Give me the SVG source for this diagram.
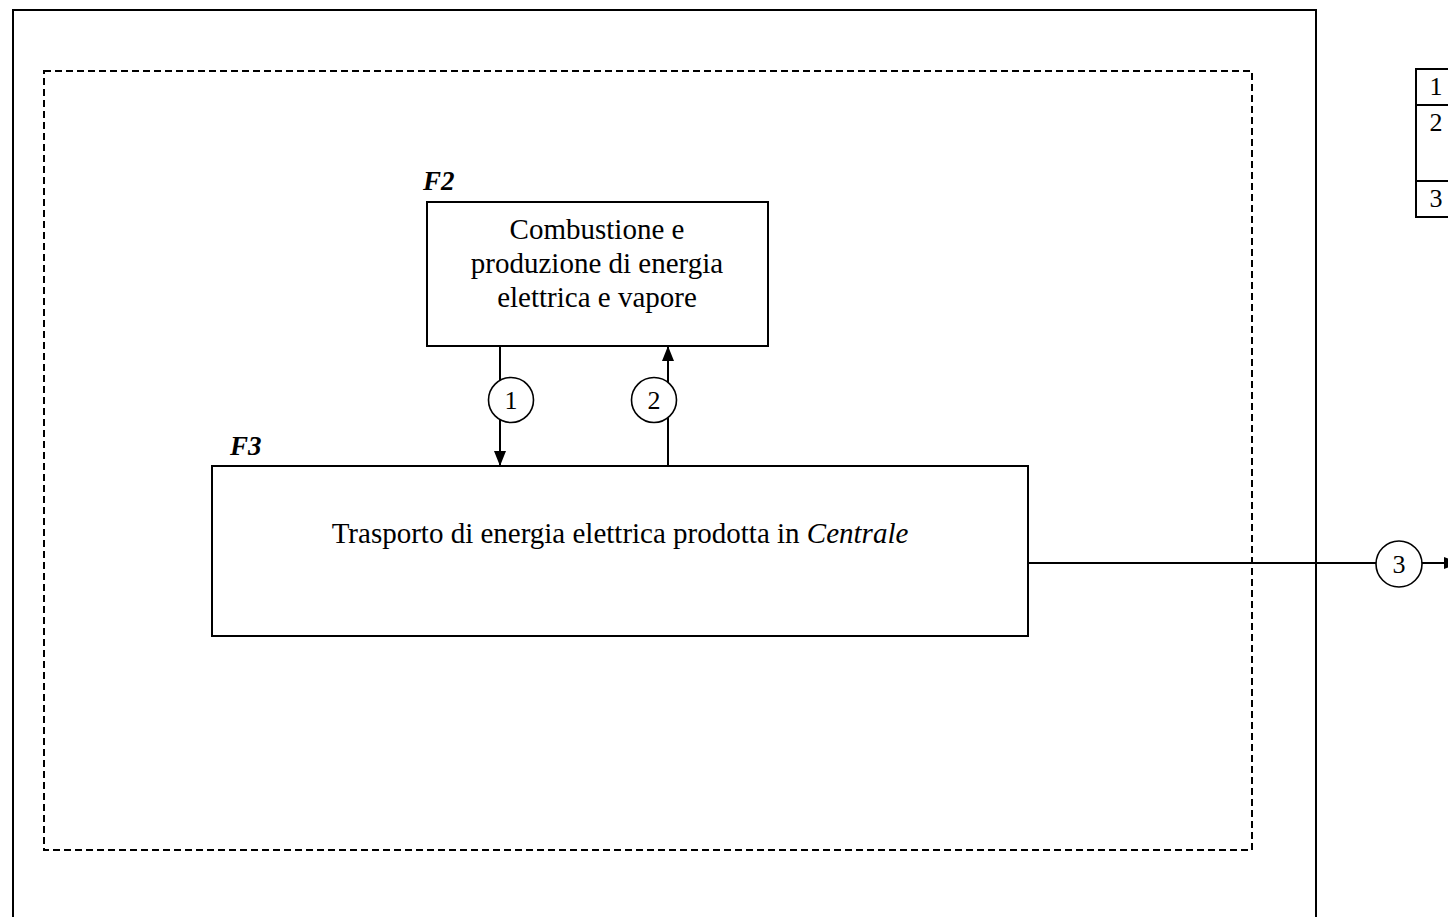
<svg xmlns="http://www.w3.org/2000/svg" width="1448" height="917" viewBox="0 0 1448 917">
  <style>
    .box { fill: #fff; stroke: #000; stroke-width: 2; }
    .frame { fill: none; stroke: #000; stroke-width: 2; }
    .dash { fill: none; stroke: #000; stroke-width: 2; stroke-dasharray: 7 4; }
    .wire { fill: none; stroke: #000; stroke-width: 2; }
    .tag { fill: #fff; stroke: #000; stroke-width: 1.6; }
    .txt { font-family: "Liberation Serif", "Times New Roman", serif; font-size: 29px; fill: #000; }
    .num { font-family: "Liberation Serif", "Times New Roman", serif; font-size: 26px; fill: #000; text-anchor: middle; }
    .lbl { font-family: "Liberation Serif", "Times New Roman", serif; font-size: 27px; font-weight: bold; font-style: italic; fill: #000; }
  </style>
  <defs>
    <marker id="arrow" viewBox="0 0 15 12" refX="15" refY="6" markerWidth="15" markerHeight="12" markerUnits="userSpaceOnUse" orient="auto">
      <path d="M0,0 L15,6 L0,12 Z" fill="#000"/>
    </marker>
  </defs>

  <rect width="1448" height="917" fill="#fff"/>

  <!-- outer boundary (bottom edge lies below the sheet) -->
  <path class="frame" d="M13,930 L13,10 L1316,10 L1316,930"/>
  <!-- plant boundary -->
  <rect class="dash" x="44" y="71" width="1208" height="779"/>

  <!-- legend table -->
  <g id="legend">
    <path class="frame" d="M1460,69 L1416,69 L1416,217 L1460,217 M1416,105 L1460,105 M1416,181 L1460,181"/>
    <text class="num" x="1436" y="95">1</text>
    <text class="num" x="1436" y="131">2</text>
    <text class="num" x="1436" y="207">3</text>
  </g>

  <!-- connectors -->
  <g id="connectors">
    <line class="wire" x1="500" y1="346" x2="500" y2="466" marker-end="url(#arrow)"/>
    <line class="wire" x1="668" y1="466" x2="668" y2="346" marker-end="url(#arrow)"/>
    <line class="wire" x1="1028" y1="563" x2="1459" y2="563" marker-end="url(#arrow)"/>
    <g id="flow1">
      <circle class="tag" cx="511" cy="400" r="22.5"/>
      <text class="num" x="511" y="409">1</text>
    </g>
    <g id="flow2">
      <circle class="tag" cx="654" cy="400" r="22.5"/>
      <text class="num" x="654" y="409">2</text>
    </g>
    <g id="flow3">
      <circle class="tag" cx="1399" cy="564" r="23"/>
      <text class="num" x="1399" y="573">3</text>
    </g>
  </g>

  <!-- F2: combustion and power/steam generation -->
  <g id="F2">
    <text class="lbl" x="423" y="190">F2</text>
    <rect class="box" x="427" y="202" width="341" height="144"/>
    <text class="txt" x="597" y="239" text-anchor="middle">Combustione e</text>
    <text class="txt" x="597" y="273" text-anchor="middle">produzione di energia</text>
    <text class="txt" x="597" y="307" text-anchor="middle">elettrica e vapore</text>
  </g>

  <!-- F3: transport of electricity -->
  <g id="F3">
    <text class="lbl" x="230" y="455">F3</text>
    <rect class="box" x="212" y="466" width="816" height="170"/>
    <text class="txt" x="620" y="543" text-anchor="middle">Trasporto di energia elettrica prodotta in <tspan font-style="italic">Centrale</tspan></text>
  </g>
</svg>
